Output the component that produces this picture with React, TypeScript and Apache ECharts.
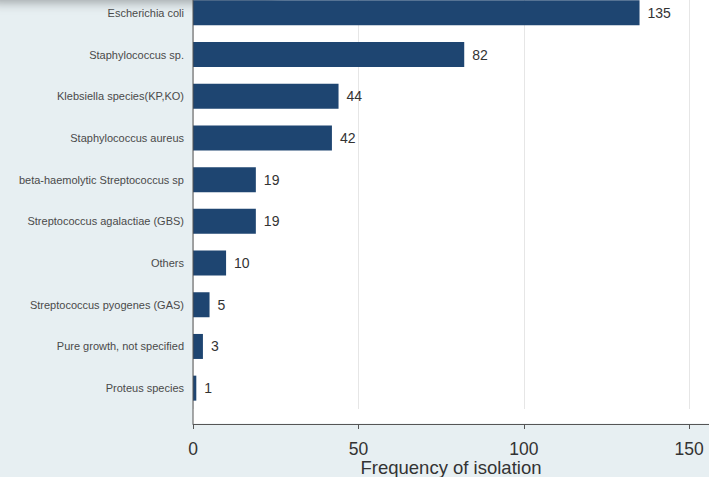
import React, { useEffect, useRef } from "react";
import * as echarts from "echarts";

const categories = [
  "Escherichia coli",
  "Staphylococcus sp.",
  "Klebsiella species(KP,KO)",
  "Staphylococcus aureus",
  "beta-haemolytic Streptococcus sp",
  "Streptococcus agalactiae (GBS)",
  "Others",
  "Streptococcus pyogenes (GAS)",
  "Pure growth, not specified",
  "Proteus species",
];
const frequencies = [135, 82, 44, 42, 19, 19, 10, 5, 3, 1];
const xTicks = [0, 50, 100, 150];
const xAxisTitle = "Frequency of isolation";

const SHIFT = 8;
const EXTRA = 30;
const DIV_H = 477 + SHIFT + EXTRA;

export default function App() {
  const ref = useRef<HTMLDivElement>(null);
  useEffect(() => {
    if (!ref.current) return;
    const chart = echarts.init(ref.current, undefined, { renderer: "svg" });
    const font = "'Liberation Sans', Arial, sans-serif";
    const axisY = SHIFT + 424;
    chart.setOption({
      animation: false,
      backgroundColor: "#e7eff2",
      textStyle: { fontFamily: font },
      graphic: [
        {
          type: "rect",
          z: -10,
          shape: { x: 193, y: SHIFT, width: 520, height: 423.5 },
          style: { fill: "#ffffff" },
        },
        {
          type: "rect",
          z: -5,
          shape: { x: -10, y: SHIFT - 24, width: 285, height: 24 },
          style: {
            fill: "#e7eff2",
            shadowBlur: 12,
            shadowColor: "rgba(0,0,0,0.35)",
            shadowOffsetY: 2,
          },
        },
        {
          type: "line",
          z: 50,
          shape: { x1: 193, y1: SHIFT, x2: 193, y2: axisY },
          style: { stroke: "#555555", lineWidth: 1 },
        },
      ],
      grid: {
        left: 193,
        right: 0,
        top: 0,
        bottom: DIV_H - (SHIFT + 409),
        containLabel: false,
      },
      xAxis: {
        type: "value",
        min: 0,
        max: 156,
        interval: 50,
        offset: 15,
        axisLine: { show: true, onZero: false, lineStyle: { color: "#555555", width: 1 } },
        axisTick: { show: true, length: 5, lineStyle: { color: "#555555", width: 1 } },
        axisLabel: {
          fontSize: 17.5,
          lineHeight: 14,
          color: "#333333",
          margin: 18,
          showMaxLabel: false,
          formatter: (v: number) => (xTicks.includes(v) ? String(v) : ""),
        },
        splitLine: { show: true, lineStyle: { color: "#e6e6e6", width: 1 } },
        name: xAxisTitle,
        nameLocation: "middle",
        nameGap: 34,
        nameMoveOverlap: false,
        nameTextStyle: {
          fontSize: 18.5,
          lineHeight: 18,
          color: "#333333",
          verticalAlign: "top",
        },
      },
      yAxis: {
        type: "category",
        inverse: true,
        data: categories,
        axisLine: { show: false },
        axisTick: { show: false },
        axisLabel: { fontSize: 11, color: "#4a4a4a", margin: 9 },
        splitLine: { show: false },
      },
      series: [
        {
          type: "bar",
          data: frequencies,
          barWidth: 25,
          itemStyle: { color: "#1e4571" },
          label: {
            show: true,
            position: "right",
            distance: 8,
            fontSize: 14,
            color: "#333333",
          },
        },
      ],
    });
    return () => chart.dispose();
  }, []);
  return (
    <div
      ref={ref}
      style={{ width: 709, height: DIV_H, position: "fixed", left: 0, top: -SHIFT }}
    />
  );
}
